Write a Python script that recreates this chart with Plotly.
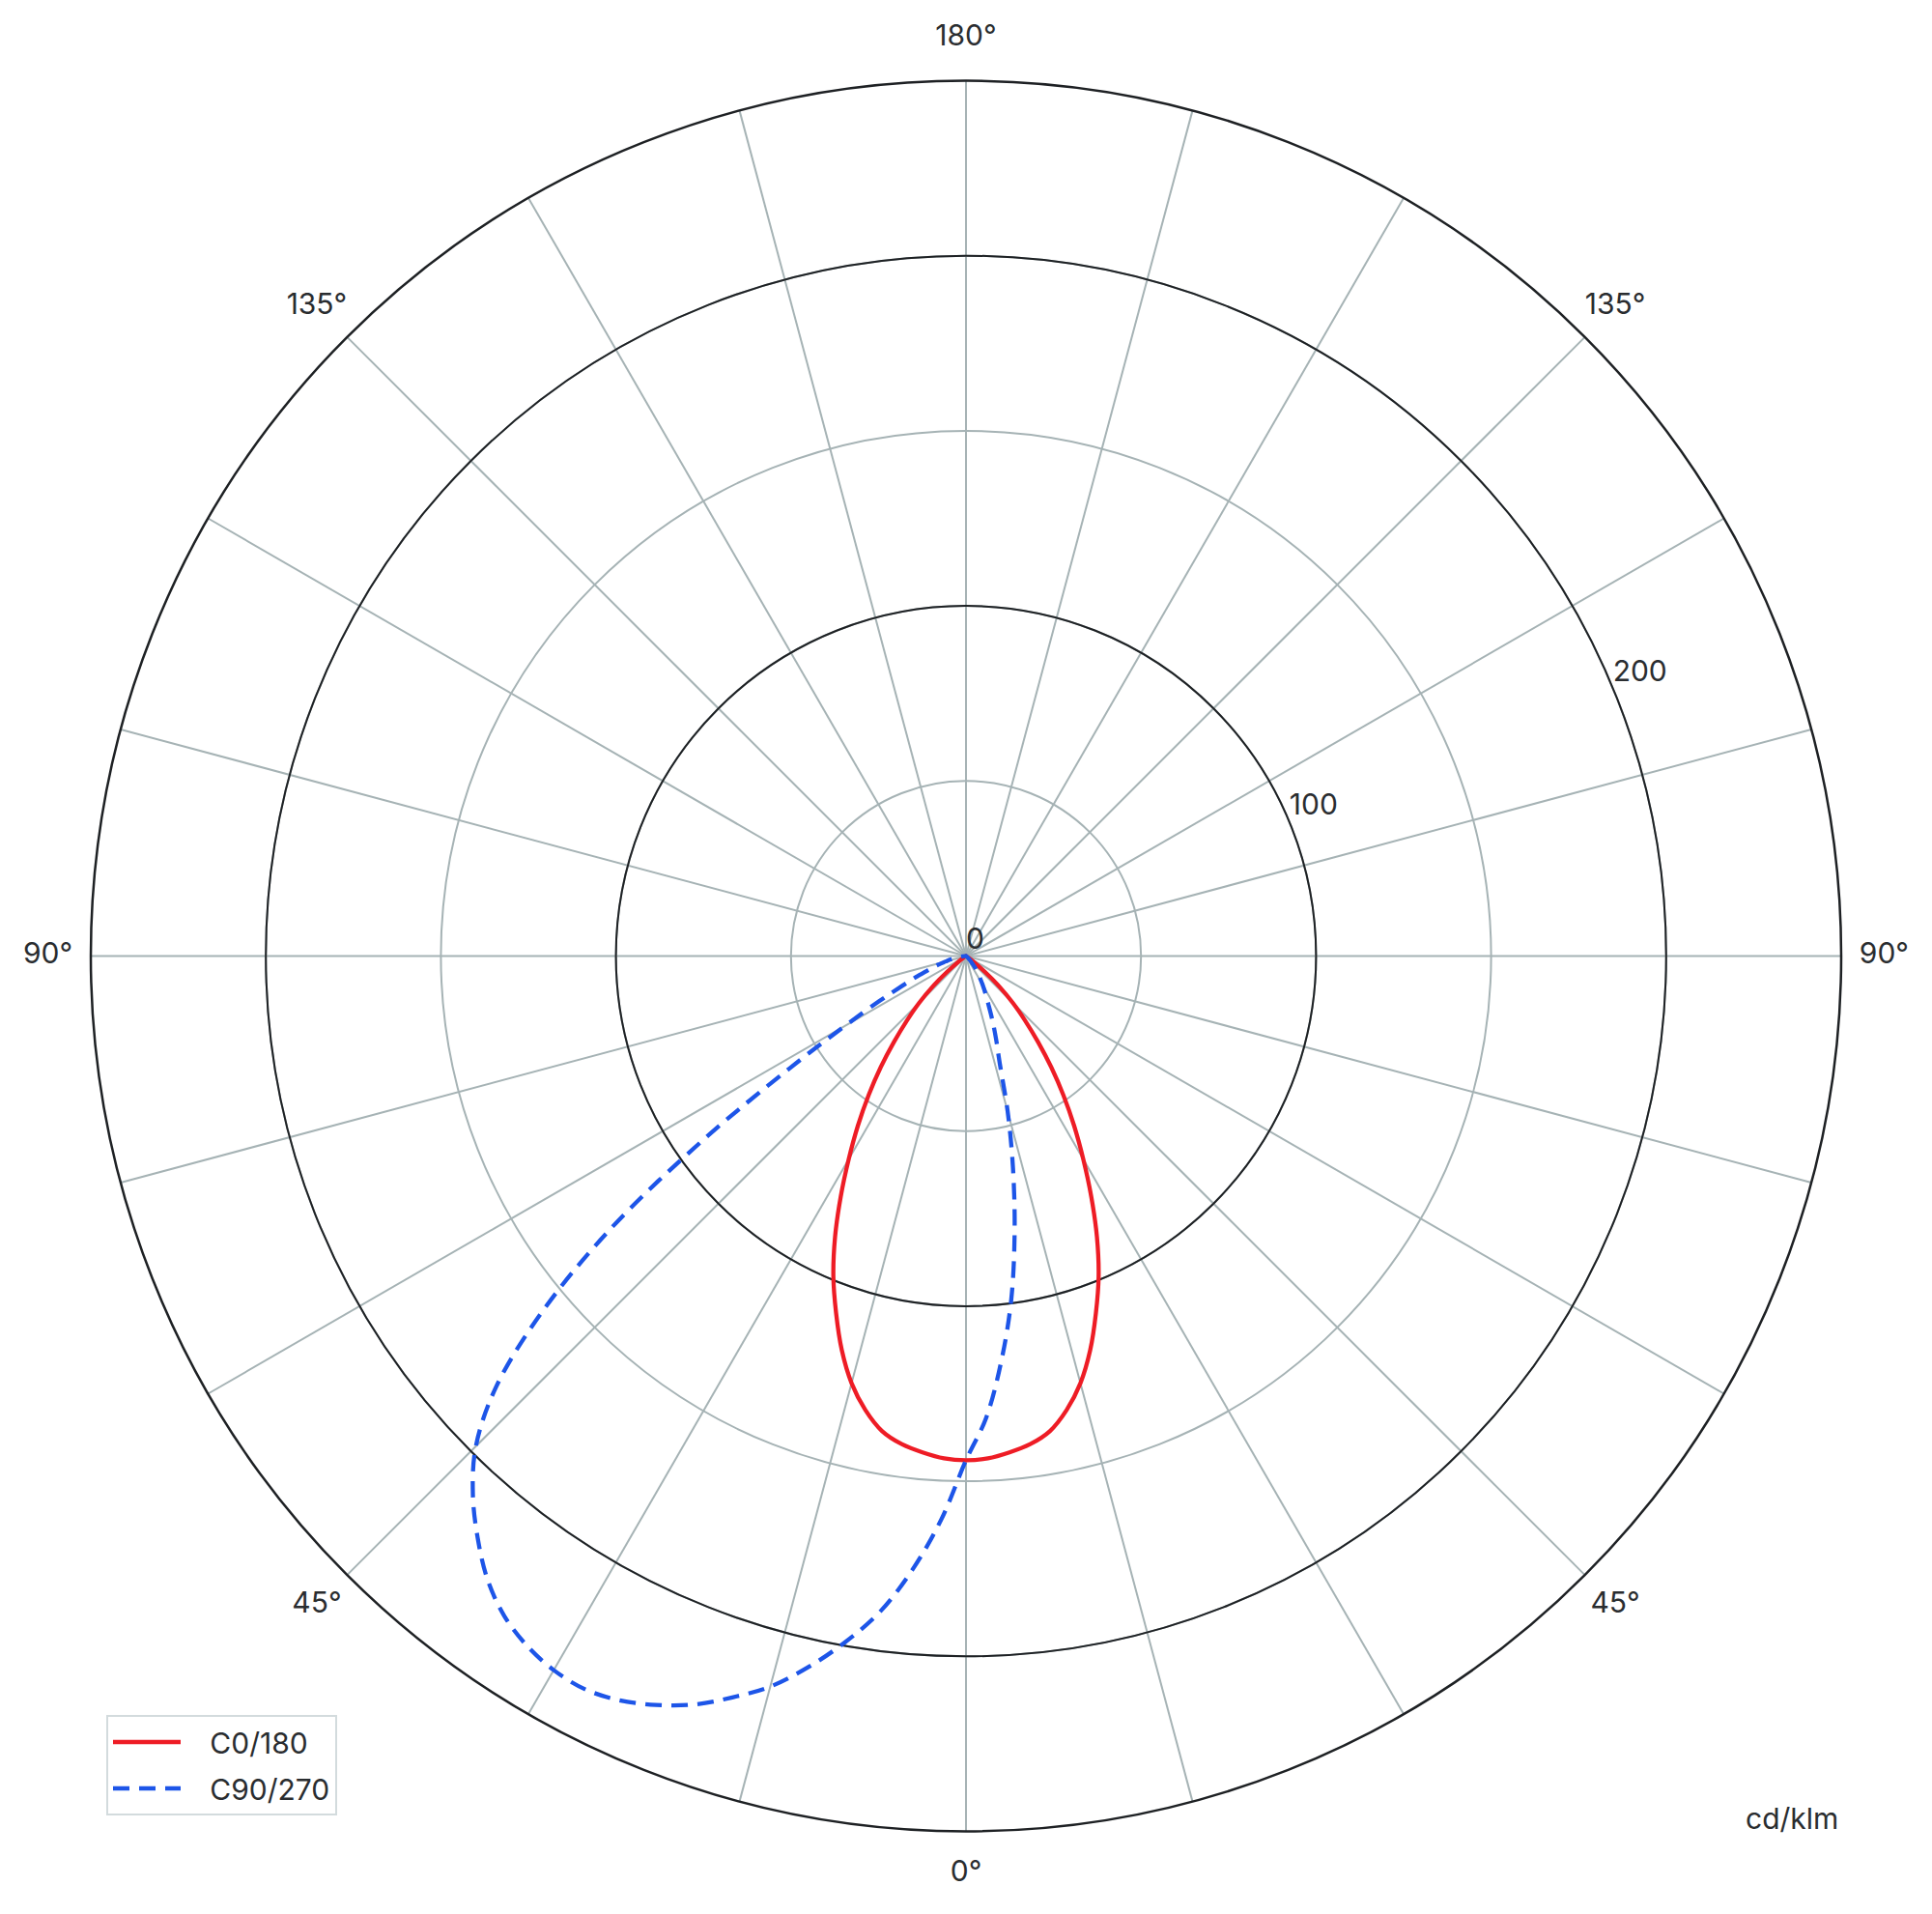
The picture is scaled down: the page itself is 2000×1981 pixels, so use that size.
import plotly.graph_objects as go

# ---- data (cd/klm) ----
gamma = [0, 2.5, 5, 7.5, 10, 12.5, 15, 17.5, 20, 22.5, 25, 27.5, 30, 32.5, 35, 37.5,
         40, 42.5, 45, 47.5, 50, 52.5, 55, 57.5, 60, 62.5, 65, 67.5, 70, 72.5, 75,
         77.5, 80, 82.5, 85, 87.5, 90]

# C0/180 plane (symmetric)
c0_180 = [144, 143.6, 142.3, 140.6, 137.8, 132.8, 126.3, 118, 108.5, 99, 88.5, 77.5, 67,
          57.5, 48.5, 40, 32, 25, 19, 13, 7, 3, 1, 0, 0, 0, 0, 0, 0, 0, 0, 0, 0, 0, 0, 0, 0]

# C90 half-plane (left side) and C270 half-plane (right side)
c90 = [144, 161, 176, 189, 199, 208, 216, 222, 227.5, 231.5, 234.5, 236, 235.5, 233.5,
       230, 224.5, 217, 208.5, 198, 182, 158, 128, 92, 60, 40, 28, 20, 15, 11, 8.5, 6,
       4.5, 3, 2, 1, 0.5, 0]
c270 = [144, 132, 116, 99, 80, 62, 46, 32, 25, 19.5, 15, 12, 9.5, 7.5, 6, 4.5, 3, 2,
        1.5, 1, 0.5, 0, 0, 0, 0, 0, 0, 0, 0, 0, 0, 0, 0, 0, 0, 0, 0]

series_names = ["C0/180", "C90/270"]

grid_angles = list(range(0, 360, 15))
angle_label_vals = [0, 45, 90, 135, 180, 225, 270, 315]
angle_label_text = ["0°", "45°", "90°", "135°", "180°", "135°", "90°", "45°"]
radial_grid = [50, 100, 150, 200]
radial_label_vals = [0, 100, 200]
radial_label_text = ["0", "100", "200"]
major_rings = [100, 200]
r_max = 250
unit_label = "cd/klm"

# ---- style / layout ----
W, H = 1992, 1973
CX, CY = 992, 981.5          # polar centre in figure pixels (from top-left)
RAD = 906                    # pixel radius of the r_max rim
RAD_OUT = 970                # pixel radius of the helper subplot holding rim labels
FONT = "Inter, Roboto, sans-serif"
TEXT = "#2a2d30"
GRID = "#a6b3b5"
DARK = "#1e2124"
RED = "#ee1c25"
BLUE = "#1d55e8"
FS = 30
PAD = "\u00a0\u00a0\u00a0"        # spacing between legend line sample and label
LABEL_R = r_max * 1.049           # radius of the angle labels (just outside the rim)
RLABEL_THETA = 247.5              # direction of the radial scale labels


def dom(radius):
    cyb = H - CY
    return dict(x=[(CX - radius) / W, (CX + radius) / W],
                y=[(cyb - radius) / H, (cyb + radius) / H])


theta_full = [-g for g in reversed(gamma)] + gamma[1:]
r_red = list(reversed(c0_180)) + c0_180[1:]
r_blue = list(reversed(c270)) + c90[1:]

fig = go.Figure()
# invisible carrier so the base (grid) polar subplot is drawn
fig.add_trace(go.Scatterpolar(r=[0], theta=[0], mode="lines", showlegend=False,
                              hoverinfo="skip", subplot="polar",
                              line=dict(color="rgba(0,0,0,0)")))
# radial scale labels
fig.add_trace(go.Scatterpolar(
    r=radial_label_vals, theta=[RLABEL_THETA] * len(radial_label_vals),
    mode="text", text=radial_label_text, textposition="top right",
    textfont=dict(size=FS, color=TEXT, family=FONT),
    showlegend=False, hoverinfo="skip", cliponaxis=False, subplot="polar2"))
# angle labels around the rim (helper subplot with a wider radial range)
fig.add_trace(go.Scatterpolar(
    r=[LABEL_R] * len(angle_label_vals), theta=angle_label_vals,
    mode="text", text=angle_label_text, textposition="middle center",
    textfont=dict(size=FS, color=TEXT, family=FONT),
    showlegend=False, hoverinfo="skip", cliponaxis=False, subplot="polar3"))

fig.add_trace(go.Scatterpolar(
    r=r_red, theta=theta_full, mode="lines", name=PAD + series_names[0],
    legendgroup="a",
    line=dict(color=RED, width=4.3, shape="spline", smoothing=1.0),
    subplot="polar2"))
fig.add_trace(go.Scatterpolar(
    r=r_blue, theta=theta_full, mode="lines", name=PAD + series_names[1],
    legendgroup="b",
    line=dict(color=BLUE, width=4.3, dash="17px,10px", shape="spline", smoothing=1.0),
    subplot="polar2"))

hidden_angular = dict(rotation=270, direction="clockwise", showgrid=False,
                      showline=False, showticklabels=False, ticks="")

fig.update_layout(
    width=W, height=H,
    margin=dict(l=0, r=0, t=0, b=0),
    paper_bgcolor="white",
    font=dict(family=FONT, size=FS, color=TEXT),
    showlegend=True,
    polar=dict(
        domain=dom(RAD),
        bgcolor="white",
        angularaxis=dict(
            rotation=270, direction="clockwise",
            tickmode="array", tickvals=grid_angles, showticklabels=False,
            showgrid=True, gridcolor=GRID, gridwidth=1.6,
            showline=True, linecolor=DARK, linewidth=2.5, ticks="",
        ),
        radialaxis=dict(
            range=[0, r_max], tickmode="array", tickvals=radial_grid,
            showgrid=True, gridcolor=GRID, gridwidth=1.6,
            showline=False, ticks="", showticklabels=False,
        ),
    ),
    polar2=dict(
        domain=dom(RAD),
        bgcolor="rgba(0,0,0,0)",
        angularaxis=hidden_angular,
        radialaxis=dict(
            range=[0, r_max], tickmode="array", tickvals=major_rings,
            showgrid=True, gridcolor=DARK, gridwidth=2.3,
            showline=False, showticklabels=False, ticks="",
        ),
    ),
    polar3=dict(
        domain=dom(RAD_OUT),
        bgcolor="rgba(0,0,0,0)",
        angularaxis=hidden_angular,
        radialaxis=dict(
            range=[0, r_max * RAD_OUT / RAD], showgrid=False,
            showline=False, showticklabels=False, ticks="",
        ),
    ),
    legend=dict(
        x=102 / W, y=(H - 1767) / H, xanchor="left", yanchor="top",
        bgcolor="white", bordercolor="#d3dbdd", borderwidth=2,
        font=dict(size=FS, color=TEXT, family=FONT),
        itemwidth=70, traceorder="grouped", tracegroupgap=6,
    ),
    annotations=[dict(
        text=unit_label, xref="paper", yref="paper", x=1897 / W, y=(H - 1874) / H,
        xanchor="right", yanchor="middle", showarrow=False,
        font=dict(size=FS, color=TEXT, family=FONT),
    )],
)

fig.write_html("out.html")
